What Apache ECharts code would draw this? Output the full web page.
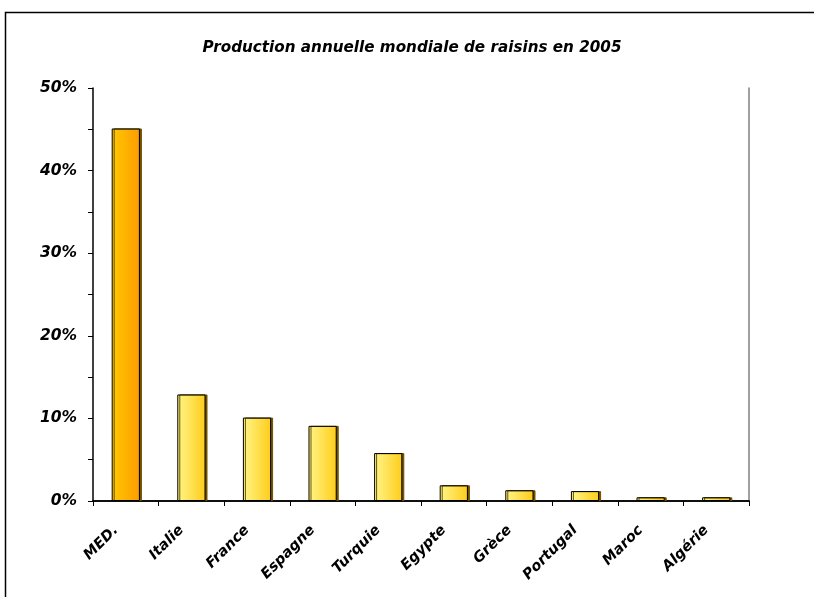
<!DOCTYPE html>
<html>
<head>
<meta charset="utf-8">
<script src="https://cdn.jsdelivr.net/npm/echarts@6/dist/echarts.min.js"></script>
<style>
html,body{margin:0;padding:0;background:#fff;}
#chart{width:814px;height:597px;}
</style>
</head>
<body>
<div id="chart"></div>
<script>
var titleText = 'Production annuelle mondiale de raisins en 2005';
var categories = ['MED.', 'Italie', 'France', 'Espagne', 'Turquie', 'Egypte', 'Grèce', 'Portugal', 'Maroc', 'Algérie'];
var shares = [45.1, 12.9, 10.1, 9.1, 5.8, 1.9, 1.3, 1.2, 0.45, 0.45];
var yTicks = [0, 10, 20, 30, 40, 50];

var FONT = 'DejaVu Sans';
var chart = echarts.init(document.getElementById('chart'), null, {renderer: 'canvas'});

var medFill = new echarts.graphic.LinearGradient(0, 0, 1, 0, [
  {offset: 0, color: '#FFC800'}, {offset: 1, color: '#FF9C00'}
]);
var otherFill = new echarts.graphic.LinearGradient(0, 0, 1, 0, [
  {offset: 0, color: '#FFF68A'}, {offset: 1, color: '#FFCC1A'}
]);

var barData = shares.map(function (v, i) {
  return {
    value: v,
    itemStyle: {color: i === 0 ? medFill : otherFill}
  };
});

chart.setOption({
  animation: false,
  backgroundColor: '#ffffff',
  title: {
    text: titleText,
    left: 407,
    top: 36,
    textAlign: 'center',
    textStyle: {fontFamily: FONT, fontSize: 15.2, fontWeight: 'bold', fontStyle: 'italic', color: '#000'}
  },
  graphic: [{
    type: 'rect',
    shape: {x: 5.5, y: 12.5, width: 830, height: 620},
    style: {fill: 'none', stroke: '#000', lineWidth: 1.5},
    silent: true
  }],
  grid: {left: 93, right: 65, top: 88, bottom: 96, containLabel: false},
  xAxis: [{
    type: 'category',
    data: categories,
    boundaryGap: true,
    axisLine: {lineStyle: {color: '#000', width: 1.5}},
    axisTick: {show: true, length: 5, alignWithLabel: false, lineStyle: {color: '#000'}},
    axisLabel: {
      interval: 0,
      rotate: 45,
      margin: 17,
      padding: [0, 14, 0, 0],
      fontFamily: FONT, fontSize: 14.5, fontWeight: 'bold', fontStyle: 'italic', color: '#000'
    },
    splitLine: {show: false}
  }, {
    type: 'category',
    position: 'top',
    data: categories,
    axisLine: {show: true, lineStyle: {color: '#000', width: 1.5}},
    axisTick: {show: false},
    axisLabel: {show: false}
  }],
  yAxis: [{
    type: 'value',
    min: 0,
    max: 50,
    interval: 5,
    axisLine: {show: true, lineStyle: {color: '#000', width: 1.5}},
    axisTick: {show: true, length: 5, lineStyle: {color: '#000'}},
    axisLabel: {
      margin: 16,
      formatter: function (v) { return yTicks.indexOf(v) >= 0 ? v + '%' : ''; },
      fontFamily: FONT, fontSize: 15.5, fontWeight: 'bold', fontStyle: 'italic', color: '#000'
    },
    splitLine: {show: false}
  }, {
    type: 'value',
    position: 'right',
    min: 0,
    max: 50,
    interval: 5,
    axisLine: {show: true, lineStyle: {color: '#808080', width: 1.5}},
    axisTick: {show: false},
    axisLabel: {show: false},
    splitLine: {show: false}
  }],
  series: [{
    type: 'bar',
    data: barData,
    barWidth: '43%',
    itemStyle: {
      borderColor: '#000',
      borderWidth: 1,
      shadowColor: '#6e5200',
      shadowOffsetX: 2,
      shadowOffsetY: 0,
      shadowBlur: 0
    }
  }]
});
</script>
</body>
</html>
